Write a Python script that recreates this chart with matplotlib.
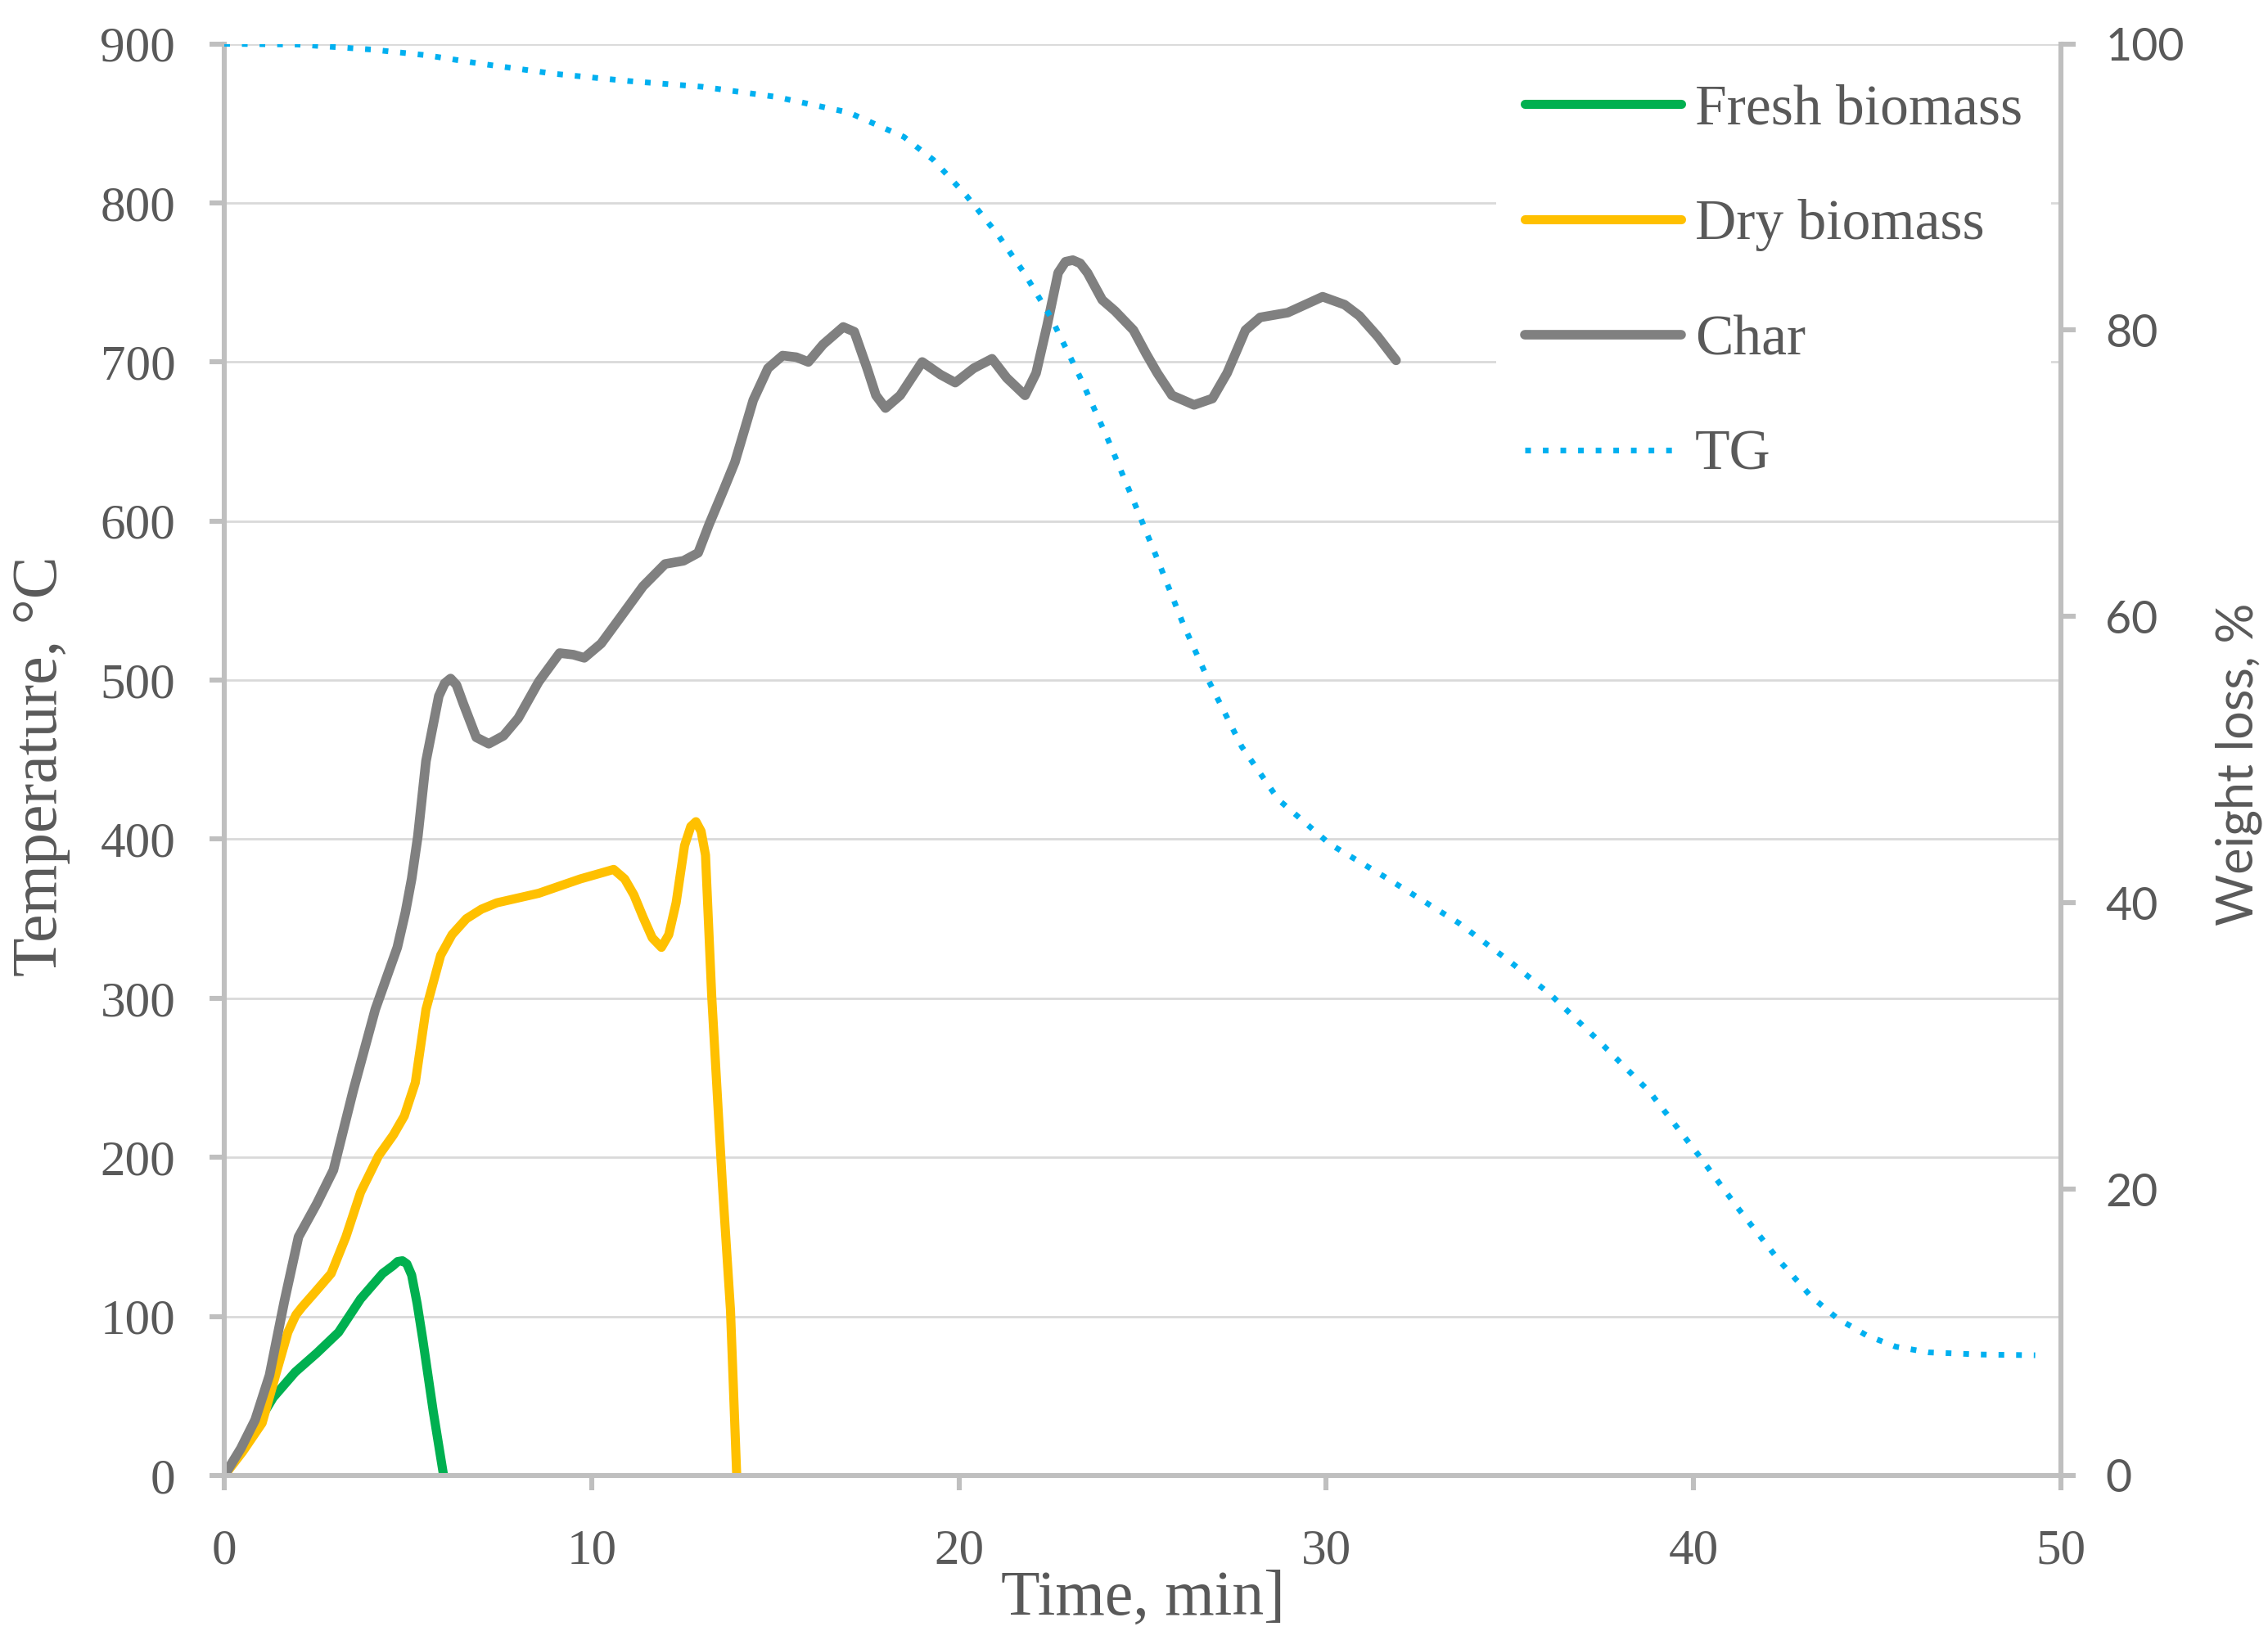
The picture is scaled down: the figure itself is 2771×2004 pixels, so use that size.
import matplotlib
matplotlib.use('Agg')
from matplotlib import pyplot as plt

# values
fresh_t = [0, 0.4, 0.84, 1.33, 1.93, 2.52, 3.11, 3.71, 4.31, 4.6, 4.72, 4.85, 4.97, 5.1, 5.25, 5.4, 5.69, 5.97]
fresh_T = [0, 14, 30, 49, 65, 77, 90, 111, 127, 132, 134.5, 135, 133, 126, 108, 86, 40, 0]

dry_t = [0, 0.5, 1.03, 1.42, 1.73, 1.95, 2.12, 2.5, 2.91, 3.31, 3.71, 4.2, 4.6, 4.9, 5.2, 5.49, 5.89, 6.2,
         6.59, 7.0, 7.42, 8.56, 9.69, 10.3, 10.6, 10.9, 11.15, 11.4, 11.65, 11.9, 12.1, 12.3, 12.53,
         12.7, 12.84, 12.98, 13.1, 13.27, 13.56, 13.78, 13.95]
dry_T = [0, 15, 33, 65, 90, 101, 106, 116, 127, 150, 178, 201, 214, 226, 247, 293, 327, 340,
         350, 356, 360, 366, 375, 379, 381, 375, 365, 351, 338, 332, 340, 360, 396,
         408, 411, 405, 390, 301, 183, 104, 0]

char_t = [0, 0.45, 0.84, 1.23, 1.63, 2.02, 2.52, 2.97, 3.51, 4.11, 4.71, 4.93, 5.1, 5.27, 5.49, 5.84,
          6.0, 6.16, 6.32, 6.51, 6.86, 7.2, 7.6, 8.0, 8.56, 9.13, 9.5, 9.8, 10.26, 10.8, 11.4, 12.0,
          12.5, 12.9, 13.2, 13.6, 13.9, 14.17, 14.4, 14.8, 15.2, 15.57, 15.9, 16.3, 16.85, 17.15,
          17.5, 17.74, 18.0, 18.4, 19.0, 19.5, 19.9, 20.4, 20.9, 21.3, 21.8, 22.1, 22.4, 22.7, 22.9,
          23.1, 23.3, 23.5, 23.9, 24.25, 24.75, 25.1, 25.4, 25.8, 26.4, 26.9, 27.3, 27.8, 28.2,
          28.95, 29.9, 30.5, 30.9, 31.4, 31.9]
char_T = [0, 17, 35, 63, 109, 150, 171, 192, 242, 293, 332, 354, 375, 402, 449, 490,
          498, 501, 497, 485, 464, 460, 465, 476, 499, 517, 516, 514, 523, 540, 559, 573,
          575, 580, 598, 620, 637, 658, 676, 696, 704, 703, 700, 711, 722, 719,
          696, 679, 671, 679, 700, 692, 687, 696, 702, 690, 679, 693, 723, 756, 763,
          764, 762, 756, 739, 732, 720, 705, 693, 679, 673, 677, 693, 720, 728,
          731, 741, 736, 729, 716, 701]

tg_t = [0, 2, 4, 5.5, 7, 9, 11, 13, 15, 17, 18.5, 19.3, 20.2, 21.05, 21.8, 22.5, 23.3, 24.05,
        24.75, 25.45, 26.1, 26.8, 27.7, 28.7, 30.1, 31.6, 33.6, 35.0, 36.1, 37.4, 38.8, 40.1,
        41.2, 42.3, 43.2, 43.9, 44.7, 45.5, 46.4, 47.8, 49.3]
tg_w = [100, 99.95, 99.6, 99.2, 98.6, 97.9, 97.4, 97.0, 96.3, 95.2, 93.5, 91.9, 89.4, 86.7, 83.9,
        80.9, 76.7, 72.4, 68.1, 63.7, 59.5, 55.5, 50.9, 47.2, 44.1, 41.8, 38.6, 35.9, 33.6, 30.4,
        26.8, 22.5, 18.7, 15.1, 12.5, 11.0, 9.8, 9.0, 8.6, 8.45, 8.4]

x_ticks = [0, 10, 20, 30, 40, 50]
temp_ticks = [0, 100, 200, 300, 400, 500, 600, 700, 800, 900]
tg_ticks = [0, 20, 40, 60, 80, 100]

axisGray = '#BFBFBF'
textGray = '#595959'
serif = 'Liberation Serif'

fig = plt.figure(figsize=(13.855, 10.02), dpi=200)
ax = fig.add_axes([0.0989, 0.1003, 0.8098, 0.873])
ax2 = ax.twinx()

#curves
l1, = ax.plot(fresh_t, fresh_T, color='#00B050', lw=4.0, solid_capstyle='round', solid_joinstyle='round', label='Fresh biomass')
l2, = ax.plot(dry_t, dry_T, color='#FFC000', lw=4.0, solid_capstyle='round', solid_joinstyle='round', label='Dry biomass')
l3, = ax.plot(char_t, char_T, color='#808080', lw=4.2, solid_capstyle='round', solid_joinstyle='round', label='Char')
l4, = ax2.plot(tg_t, tg_w, color='#00B0F0', lw=2.5, linestyle=(0, (1, 2.1)), dash_capstyle='butt', label='TG')

ax.set_xlim(0, 50)
ax.set_ylim(0, 900)
ax2.set_ylim(0, 100)
ax.set_xticks(x_ticks)
ax.set_yticks(temp_ticks)
ax2.set_yticks(tg_ticks)

ax.grid(axis='y', color='#D9D9D9', lw=1.0)
ax.set_axisbelow(True)

#spines and ticks
for s in ['top', 'right']:
	ax.spines[s].set_visible(False)
for s in ['top', 'left', 'bottom']:
	ax2.spines[s].set_visible(False)
for s in ['left', 'bottom']:
	ax.spines[s].set_color(axisGray)
	ax.spines[s].set_linewidth(2.2)
ax2.spines['right'].set_color(axisGray)
ax2.spines['right'].set_linewidth(2.2)

ax.tick_params(axis='x', direction='out', length=6.5, width=2.2, color=axisGray, labelcolor=textGray, labelsize=22, pad=17)
ax.tick_params(axis='y', direction='out', length=6.5, width=2.2, color=axisGray, labelcolor=textGray, labelsize=22, pad=15)
ax2.tick_params(axis='y', direction='out', length=6.5, width=2.2, color=axisGray, labelcolor=textGray, labelsize=20, pad=13)

for lab in ax.get_xticklabels() + ax.get_yticklabels():
	lab.set_fontfamily(serif)
for lab in ax2.get_yticklabels():
	lab.set_fontfamily('Lato')

#axis titles
fig.text(50 / 2771, 1 - 936 / 2004, 'Temperature, °C', rotation=90, ha='center', va='center',
         fontsize=28, color=textGray, family=serif)
fig.text(1396 / 2771, 1 - 1973 / 2004, 'Time, min]', ha='center', va='baseline',
         fontsize=28, color=textGray, family=serif)
fig.text(2735 / 2771, 1 - 934 / 2004, 'Weight loss, %', rotation=90, ha='center', va='center',
         fontsize=22, color=textGray, family='Lato')

leg = ax2.legend([l1, l2, l3, l4], [l.get_label() for l in [l1, l2, l3, l4]],
                 loc='upper left', bbox_to_anchor=(1828 / 2771, 1 - 68 / 2004), bbox_transform=fig.transFigure,
                 frameon=True, facecolor='white', edgecolor='none', framealpha=1, fancybox=False,
                 handlelength=2.75, handletextpad=0.25, labelspacing=1.11, borderpad=0.5, borderaxespad=0,
                 prop={'family': serif, 'size': 25})
for t in leg.get_texts():
	t.set_color(textGray)

fig.savefig('out.png', dpi=200)
